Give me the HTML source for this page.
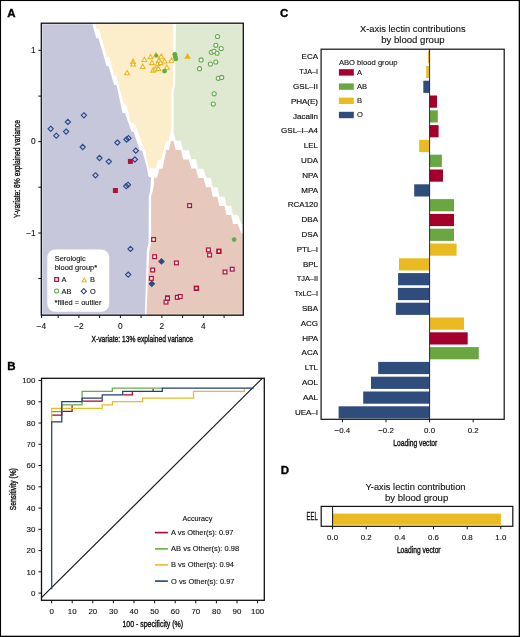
<!DOCTYPE html>
<html><head><meta charset="utf-8"><title>Figure</title>
<style>
html,body{margin:0;padding:0;background:#fff;}
body{width:520px;height:637px;overflow:hidden;}
svg{display:block;will-change:transform;font-family:"Liberation Sans", sans-serif;}
</style></head>
<body>
<svg width="520" height="637" viewBox="0 0 520 637">
<rect x="0" y="0" width="520" height="637" fill="#fff"/>
<rect x="41.3" y="23.2" width="202.0" height="292.0" fill="#fff"/>
<polygon points="41.3,23.2 92.1,23.2 96.3,38.2 98.5,38.2 106.6,66.3 108.6,66.3 114.1,85.0 116.5,85.0 122.6,113.0 124.9,113.0 131.5,131.8 133.5,131.8 140.0,150.4 142.2,150.4 146.9,168.0 148.5,176.5 151.1,177.8 150.1,191.4 148.8,196.4 148.6,242.9 146.9,250.0 144.9,315.2 41.3,315.2" fill="#c6c7db"/>
<polygon points="94.9,23.2 173.2,23.2 173.2,86.0 171.3,89.8 171.3,125.0 170.9,131.0 168.6,140.8 166.0,141.5 160.8,159.5 158.4,159.8 155.8,168.3 148.9,168.3 146.5,158.6 145.6,151.0 144.1,149.0 135.5,125.0 133.2,122.4 130.8,122.4 126.2,103.7 123.5,103.7 116.5,75.7 114.1,75.7 109.2,57.0 106.8,57.0 99.2,28.9 96.7,28.9" fill="#fcedcb"/>
<polygon points="176.0,23.2 243.3,23.2 243.3,224.1 241.4,224.1 237.7,214.7 233.0,214.7 231.1,205.7 226.4,205.7 224.5,196.8 219.3,196.8 217.4,187.3 212.7,187.3 210.8,177.8 206.1,177.8 203.4,168.7 198.2,168.7 195.9,159.2 191.2,159.2 188.8,150.2 183.2,150.2 180.8,140.8 175.7,140.8 173.5,131.8 173.6,131.8 173.6,89.8 175.1,86.0" fill="#dfe8d1"/>
<polygon points="170.9,141.1 173.5,141.1 175.7,150.1 180.8,150.1 183.2,159.6 188.8,159.6 191.2,168.6 195.9,168.6 198.2,178.0 203.4,178.0 206.1,187.2 210.8,187.2 212.7,196.7 217.4,196.7 219.3,206.1 224.5,206.1 226.4,215.0 231.1,215.0 233.0,224.0 237.7,224.0 241.4,233.4 243.3,233.4 243.3,315.2 146.4,315.2 149.4,250.0 151.1,242.9 151.1,196.4 152.6,191.4 153.8,185.0 154.1,177.9 157.1,177.5 159.3,168.9 162.7,168.3 166.2,150.1 168.8,150.1" fill="#e6c8bd"/>
<rect x="47.3" y="249.5" width="61.9" height="62.3" rx="8" ry="8" fill="#fff"/>
<polygon points="83.9,112.70 86.50,115.3 83.9,117.90 81.30,115.3" fill="none" stroke="#284a8a" stroke-width="1.15"/>
<polygon points="67.9,119.30 70.50,121.9 67.9,124.50 65.30,121.9" fill="none" stroke="#284a8a" stroke-width="1.15"/>
<polygon points="50.7,126.20 53.30,128.8 50.7,131.40 48.10,128.8" fill="none" stroke="#284a8a" stroke-width="1.15"/>
<polygon points="66.1,129.00 68.70,131.6 66.1,134.20 63.50,131.6" fill="none" stroke="#284a8a" stroke-width="1.15"/>
<polygon points="56.3,133.10 58.90,135.7 56.3,138.30 53.70,135.7" fill="none" stroke="#284a8a" stroke-width="1.15"/>
<polygon points="82.7,144.40 85.30,147 82.7,149.60 80.10,147" fill="none" stroke="#284a8a" stroke-width="1.15"/>
<polygon points="99.5,155.40 102.10,158 99.5,160.60 96.90,158" fill="none" stroke="#284a8a" stroke-width="1.15"/>
<polygon points="95.5,172.70 98.10,175.3 95.5,177.90 92.90,175.3" fill="none" stroke="#284a8a" stroke-width="1.15"/>
<polygon points="117.4,140.00 120.00,142.6 117.4,145.20 114.80,142.6" fill="none" stroke="#284a8a" stroke-width="1.15"/>
<polygon points="126.5,136.90 129.10,139.5 126.5,142.10 123.90,139.5" fill="none" stroke="#284a8a" stroke-width="1.15"/>
<polygon points="128.5,135.60 131.10,138.2 128.5,140.80 125.90,138.2" fill="none" stroke="#284a8a" stroke-width="1.15"/>
<polygon points="135.8,148.10 138.40,150.7 135.8,153.30 133.20,150.7" fill="none" stroke="#284a8a" stroke-width="1.15"/>
<polygon points="108.8,159.00 111.40,161.6 108.8,164.20 106.20,161.6" fill="none" stroke="#284a8a" stroke-width="1.15"/>
<polygon points="134.9,156.90 137.50,159.5 134.9,162.10 132.30,159.5" fill="none" stroke="#284a8a" stroke-width="1.15"/>
<polygon points="126.2,183.60 128.80,186.2 126.2,188.80 123.60,186.2" fill="none" stroke="#284a8a" stroke-width="1.15"/>
<polygon points="128,182.20 130.60,184.8 128,187.40 125.40,184.8" fill="none" stroke="#284a8a" stroke-width="1.15"/>
<polygon points="130.5,246.30 133.10,248.9 130.5,251.50 127.90,248.9" fill="none" stroke="#284a8a" stroke-width="1.15"/>
<polygon points="128.2,272.00 130.80,274.6 128.2,277.20 125.60,274.6" fill="none" stroke="#284a8a" stroke-width="1.15"/>
<rect x="127.9" y="158.9" width="5.0" height="5.0" fill="#b0103a"/>
<rect x="112.9" y="188.0" width="5.0" height="5.0" fill="#b0103a"/>
<rect x="151.72" y="237.62" width="3.75" height="3.75" fill="#fff" stroke="#b3123f" stroke-width="1.25"/>
<rect x="152.72" y="254.82" width="3.75" height="3.75" fill="#fff" stroke="#b3123f" stroke-width="1.25"/>
<rect x="150.82" y="268.12" width="3.75" height="3.75" fill="#fff" stroke="#b3123f" stroke-width="1.25"/>
<rect x="149.53" y="276.52" width="3.75" height="3.75" fill="#fff" stroke="#b3123f" stroke-width="1.25"/>
<rect x="165.62" y="295.93" width="3.75" height="3.75" fill="#fff" stroke="#b3123f" stroke-width="1.25"/>
<rect x="187.72" y="203.72" width="3.75" height="3.75" fill="#fff" stroke="#b3123f" stroke-width="1.25"/>
<rect x="206.53" y="248.03" width="3.75" height="3.75" fill="#fff" stroke="#b3123f" stroke-width="1.25"/>
<rect x="207.72" y="253.12" width="3.75" height="3.75" fill="#fff" stroke="#b3123f" stroke-width="1.25"/>
<rect x="174.53" y="261.02" width="3.75" height="3.75" fill="#fff" stroke="#b3123f" stroke-width="1.25"/>
<rect x="223.12" y="270.12" width="3.75" height="3.75" fill="#fff" stroke="#b3123f" stroke-width="1.25"/>
<rect x="230.32" y="267.32" width="3.75" height="3.75" fill="#fff" stroke="#b3123f" stroke-width="1.25"/>
<rect x="165.62" y="296.52" width="3.75" height="3.75" fill="#fff" stroke="#b3123f" stroke-width="1.25"/>
<rect x="164.12" y="300.23" width="3.75" height="3.75" fill="#fff" stroke="#b3123f" stroke-width="1.25"/>
<rect x="175.43" y="295.52" width="3.75" height="3.75" fill="#fff" stroke="#b3123f" stroke-width="1.25"/>
<rect x="178.32" y="294.62" width="3.75" height="3.75" fill="#fff" stroke="#b3123f" stroke-width="1.25"/>
<rect x="217.05" y="249.45" width="3.70" height="3.70" fill="#fff" stroke="#b3123f" stroke-width="1.7"/>
<rect x="194.55" y="286.45" width="3.70" height="3.70" fill="#fff" stroke="#b3123f" stroke-width="1.7"/>
<polygon points="161.5,258.0 164.9,261.4 161.5,264.79999999999995 158.1,261.4" fill="#284a8a"/>
<polygon points="151.8,280.40000000000003 155.20000000000002,283.8 151.8,287.2 148.4,283.8" fill="#284a8a"/>
<circle cx="234.1" cy="239.6" r="2.3" fill="#62ab47"/>
<polygon points="127.1,70.58 129.52,74.80 124.68,74.80" fill="#fff" fill-opacity="0.7" stroke="#e8b61c" stroke-width="1.05"/>
<polygon points="133.1,59.18 135.52,63.40 130.68,63.40" fill="#fff" fill-opacity="0.7" stroke="#e8b61c" stroke-width="1.05"/>
<polygon points="133.1,61.78 135.52,66.00 130.68,66.00" fill="#fff" fill-opacity="0.7" stroke="#e8b61c" stroke-width="1.05"/>
<polygon points="142.7,64.18 145.12,68.40 140.28,68.40" fill="#fff" fill-opacity="0.7" stroke="#e8b61c" stroke-width="1.05"/>
<polygon points="144.4,57.28 146.82,61.50 141.98,61.50" fill="#fff" fill-opacity="0.7" stroke="#e8b61c" stroke-width="1.05"/>
<polygon points="150.5,54.58 152.92,58.80 148.08,58.80" fill="#fff" fill-opacity="0.7" stroke="#e8b61c" stroke-width="1.05"/>
<polygon points="151.9,60.38 154.32,64.60 149.48,64.60" fill="#fff" fill-opacity="0.7" stroke="#e8b61c" stroke-width="1.05"/>
<polygon points="156,52.68 158.42,56.90 153.58,56.90" fill="#fff" fill-opacity="0.7" stroke="#e8b61c" stroke-width="1.05"/>
<polygon points="161.2,54.08 163.62,58.30 158.78,58.30" fill="#fff" fill-opacity="0.7" stroke="#e8b61c" stroke-width="1.05"/>
<polygon points="158.8,58.08 161.22,62.30 156.38,62.30" fill="#fff" fill-opacity="0.7" stroke="#e8b61c" stroke-width="1.05"/>
<polygon points="164.6,58.68 167.02,62.90 162.18,62.90" fill="#fff" fill-opacity="0.7" stroke="#e8b61c" stroke-width="1.05"/>
<polygon points="157.7,61.58 160.12,65.80 155.28,65.80" fill="#fff" fill-opacity="0.7" stroke="#e8b61c" stroke-width="1.05"/>
<polygon points="160.6,60.38 163.02,64.60 158.18,64.60" fill="#fff" fill-opacity="0.7" stroke="#e8b61c" stroke-width="1.05"/>
<polygon points="153.1,67.88 155.52,72.10 150.68,72.10" fill="#fff" fill-opacity="0.7" stroke="#e8b61c" stroke-width="1.05"/>
<polygon points="155.4,66.68 157.82,70.90 152.98,70.90" fill="#fff" fill-opacity="0.7" stroke="#e8b61c" stroke-width="1.05"/>
<polygon points="158.3,66.18 160.72,70.40 155.88,70.40" fill="#fff" fill-opacity="0.7" stroke="#e8b61c" stroke-width="1.05"/>
<polygon points="166.9,64.98 169.32,69.20 164.48,69.20" fill="#fff" fill-opacity="0.7" stroke="#e8b61c" stroke-width="1.05"/>
<polygon points="171.5,58.08 173.92,62.30 169.08,62.30" fill="#fff" fill-opacity="0.7" stroke="#e8b61c" stroke-width="1.05"/>
<circle cx="156.3" cy="55.6" r="1.8" fill="#62ab47"/>
<circle cx="164.6" cy="71.1" r="2.4" fill="#62ab47"/>
<circle cx="174.8" cy="54.3" r="2.4" fill="#62ab47"/>
<circle cx="175.2" cy="56.6" r="2.4" fill="#62ab47"/>
<circle cx="175.8" cy="58.9" r="2.4" fill="#62ab47"/>
<polygon points="187.6,52.9 190.9,58.7 184.2,58.7" fill="#e8b61c"/>
<circle cx="217.5" cy="36.5" r="2.05" fill="#fff" stroke="#62ab47" stroke-width="1.05"/>
<circle cx="215.8" cy="45.3" r="2.05" fill="#fff" stroke="#62ab47" stroke-width="1.05"/>
<circle cx="221.2" cy="48.6" r="2.05" fill="#fff" stroke="#62ab47" stroke-width="1.05"/>
<circle cx="211.4" cy="52.3" r="2.05" fill="#fff" stroke="#62ab47" stroke-width="1.05"/>
<circle cx="214" cy="51.3" r="2.05" fill="#fff" stroke="#62ab47" stroke-width="1.05"/>
<circle cx="217.1" cy="53.2" r="2.05" fill="#fff" stroke="#62ab47" stroke-width="1.05"/>
<circle cx="201.1" cy="59.9" r="2.05" fill="#fff" stroke="#62ab47" stroke-width="1.05"/>
<circle cx="215.8" cy="62" r="2.05" fill="#fff" stroke="#62ab47" stroke-width="1.05"/>
<circle cx="210.4" cy="64.1" r="2.05" fill="#fff" stroke="#62ab47" stroke-width="1.05"/>
<circle cx="199.5" cy="68.7" r="2.05" fill="#fff" stroke="#62ab47" stroke-width="1.05"/>
<circle cx="218.3" cy="78.3" r="2.05" fill="#fff" stroke="#62ab47" stroke-width="1.05"/>
<circle cx="221.7" cy="77.4" r="2.05" fill="#fff" stroke="#62ab47" stroke-width="1.05"/>
<circle cx="214.2" cy="93.8" r="2.05" fill="#fff" stroke="#62ab47" stroke-width="1.05"/>
<circle cx="213.3" cy="104.1" r="2.05" fill="#fff" stroke="#62ab47" stroke-width="1.05"/>
<text x="54.7" y="261.1" font-size="7.4" textLength="31" lengthAdjust="spacingAndGlyphs" fill="#111" stroke="#111" stroke-width="0.12">Serologic</text>
<text x="54.7" y="270.3" font-size="7.4" textLength="42.5" lengthAdjust="spacingAndGlyphs" fill="#111" stroke="#111" stroke-width="0.12">blood group*</text>
<rect x="54.73" y="277.62" width="3.75" height="3.75" fill="#fff" stroke="#b3123f" stroke-width="1.25"/>
<text x="61.5" y="282.2" font-size="7.4" fill="#111" stroke="#111" stroke-width="0.12">A</text>
<polygon points="84.2,277.98 86.39,281.79 82.01,281.79" fill="#fff" fill-opacity="0.7" stroke="#e8b61c" stroke-width="1.05"/>
<text x="89.9" y="282.2" font-size="7.4" fill="#111" stroke="#111" stroke-width="0.12">B</text>
<circle cx="56.6" cy="291" r="2.05" fill="#fff" stroke="#62ab47" stroke-width="1.05"/>
<text x="61.5" y="293.7" font-size="7.4" fill="#111" stroke="#111" stroke-width="0.12">AB</text>
<polygon points="83.8,288.60 86.40,291.2 83.8,293.80 81.20,291.2" fill="none" stroke="#284a8a" stroke-width="1.15"/>
<text x="89.9" y="293.7" font-size="7.4" fill="#111" stroke="#111" stroke-width="0.12">O</text>
<text x="54.6" y="305.0" font-size="7.4" textLength="46.8" lengthAdjust="spacingAndGlyphs" fill="#111" stroke="#111" stroke-width="0.12">*filled = outlier</text>
<rect x="42.55" y="24.45" width="199.5" height="289.5" fill="none" stroke="#fff" stroke-opacity="0.28" stroke-width="1"/>
<rect x="41.3" y="23.2" width="202.0" height="292.0" fill="none" stroke="#111" stroke-width="1.3"/>
<line x1="41.6" y1="315.2" x2="41.6" y2="318.0" stroke="#111" stroke-width="1"/>
<line x1="58.2" y1="315.2" x2="58.2" y2="318.0" stroke="#111" stroke-width="1"/>
<line x1="78.9" y1="315.2" x2="78.9" y2="318.0" stroke="#111" stroke-width="1"/>
<line x1="99.6" y1="315.2" x2="99.6" y2="318.0" stroke="#111" stroke-width="1"/>
<line x1="120.4" y1="315.2" x2="120.4" y2="318.0" stroke="#111" stroke-width="1"/>
<line x1="141.1" y1="315.2" x2="141.1" y2="318.0" stroke="#111" stroke-width="1"/>
<line x1="161.9" y1="315.2" x2="161.9" y2="318.0" stroke="#111" stroke-width="1"/>
<line x1="182.6" y1="315.2" x2="182.6" y2="318.0" stroke="#111" stroke-width="1"/>
<line x1="203.4" y1="315.2" x2="203.4" y2="318.0" stroke="#111" stroke-width="1"/>
<line x1="224.1" y1="315.2" x2="224.1" y2="318.0" stroke="#111" stroke-width="1"/>
<line x1="38.3" y1="50.3" x2="41.3" y2="50.3" stroke="#111" stroke-width="1"/>
<line x1="38.3" y1="96.1" x2="41.3" y2="96.1" stroke="#111" stroke-width="1"/>
<line x1="38.3" y1="141.6" x2="41.3" y2="141.6" stroke="#111" stroke-width="1"/>
<line x1="38.3" y1="187.2" x2="41.3" y2="187.2" stroke="#111" stroke-width="1"/>
<line x1="38.3" y1="233.0" x2="41.3" y2="233.0" stroke="#111" stroke-width="1"/>
<line x1="38.3" y1="278.5" x2="41.3" y2="278.5" stroke="#111" stroke-width="1"/>
<text x="41.3" y="328.6" font-size="8.3" text-anchor="middle" fill="#111" stroke="#111" stroke-width="0.12">−4</text>
<text x="78.9" y="328.6" font-size="8.3" text-anchor="middle" fill="#111" stroke="#111" stroke-width="0.12">−2</text>
<text x="120.4" y="328.6" font-size="8.3" text-anchor="middle" fill="#111" stroke="#111" stroke-width="0.12">0</text>
<text x="161.9" y="328.6" font-size="8.3" text-anchor="middle" fill="#111" stroke="#111" stroke-width="0.12">2</text>
<text x="203.4" y="328.6" font-size="8.3" text-anchor="middle" fill="#111" stroke="#111" stroke-width="0.12">4</text>
<text x="35.7" y="52.8" font-size="8.3" text-anchor="end" fill="#111" stroke="#111" stroke-width="0.12">1</text>
<text x="35.7" y="144.1" font-size="8.3" text-anchor="end" fill="#111" stroke="#111" stroke-width="0.12">0</text>
<text x="35.7" y="235.5" font-size="8.3" text-anchor="end" fill="#111" stroke="#111" stroke-width="0.12">−1</text>
<text x="91.5" y="341.5" font-size="9.3" textLength="101.6" lengthAdjust="spacingAndGlyphs" fill="#111" stroke="#111" stroke-width="0.38">X-variate: 13% explained variance</text>
<text x="20.1" y="218.0" font-size="9.3" textLength="98" lengthAdjust="spacingAndGlyphs" transform="rotate(-90 20.1 218.0)" fill="#111" stroke="#111" stroke-width="0.38">Y-variate: 8% explained variance</text>
<line x1="41.5" y1="597.7" x2="262.3" y2="378.3" stroke="#111" stroke-width="1.15"/>
<polyline points="51.7,415.2 61.8,415.2 61.8,411.3 72.1,411.3 72.1,405.3" fill="none" stroke="#a8052f" stroke-width="1.25" stroke-linejoin="miter"/>
<polyline points="82.7,401.2 102.2,401.2 102.2,398.8" fill="none" stroke="#a8052f" stroke-width="1.25" stroke-linejoin="miter"/>
<polyline points="123.3,394.8 132.4,394.8 132.4,392.0" fill="none" stroke="#a8052f" stroke-width="1.25" stroke-linejoin="miter"/>
<polyline points="153.1,391.0 153.1,388.8" fill="none" stroke="#a8052f" stroke-width="1.25" stroke-linejoin="miter"/>
<polyline points="51.7,411.5 61.8,411.5 61.8,404.8 82.1,404.8 82.1,391.4 112.3,391.4 112.3,388.2 161.8,388.2" fill="none" stroke="#68ab45" stroke-width="1.25" stroke-linejoin="miter"/>
<polyline points="51.7,421.2 51.7,408.3 102.2,408.3 102.2,404.8 112.4,404.8 112.4,401.5 142.7,401.5 142.7,398.0 193.5,398.0 193.5,391.4 244.3,391.4 244.3,388.8" fill="none" stroke="#ebbb22" stroke-width="1.25" stroke-linejoin="miter"/>
<polyline points="51.7,589.3 51.7,421.8 61.8,421.8 61.8,401.7 82.1,401.7 82.1,398.1 102.2,398.1 102.2,394.8 122.7,394.8 122.7,391.4 162.3,391.4 162.3,388.1 253.7,388.1" fill="none" stroke="#223f7e" stroke-width="1.25" stroke-linejoin="miter"/>
<rect x="41.5" y="378.3" width="222.8" height="221.99999999999994" fill="none" stroke="#111" stroke-width="1.3"/>
<line x1="51.6" y1="600.3" x2="51.6" y2="603.3" stroke="#111" stroke-width="1"/>
<line x1="38.5" y1="593.1" x2="41.5" y2="593.1" stroke="#111" stroke-width="1"/>
<text x="51.6" y="613.8" font-size="7.9" text-anchor="middle" fill="#111" stroke="#111" stroke-width="0.12">0</text>
<text x="35.4" y="595.9" font-size="7.9" text-anchor="end" fill="#111" stroke="#111" stroke-width="0.12">0</text>
<line x1="72.2" y1="600.3" x2="72.2" y2="603.3" stroke="#111" stroke-width="1"/>
<line x1="38.5" y1="571.8" x2="41.5" y2="571.8" stroke="#111" stroke-width="1"/>
<text x="72.2" y="613.8" font-size="7.9" text-anchor="middle" fill="#111" stroke="#111" stroke-width="0.12">10</text>
<text x="35.4" y="574.6" font-size="7.9" text-anchor="end" fill="#111" stroke="#111" stroke-width="0.12">10</text>
<line x1="92.8" y1="600.3" x2="92.8" y2="603.3" stroke="#111" stroke-width="1"/>
<line x1="38.5" y1="550.6" x2="41.5" y2="550.6" stroke="#111" stroke-width="1"/>
<text x="92.8" y="613.8" font-size="7.9" text-anchor="middle" fill="#111" stroke="#111" stroke-width="0.12">20</text>
<text x="35.4" y="553.4" font-size="7.9" text-anchor="end" fill="#111" stroke="#111" stroke-width="0.12">20</text>
<line x1="113.4" y1="600.3" x2="113.4" y2="603.3" stroke="#111" stroke-width="1"/>
<line x1="38.5" y1="529.3" x2="41.5" y2="529.3" stroke="#111" stroke-width="1"/>
<text x="113.4" y="613.8" font-size="7.9" text-anchor="middle" fill="#111" stroke="#111" stroke-width="0.12">30</text>
<text x="35.4" y="532.1" font-size="7.9" text-anchor="end" fill="#111" stroke="#111" stroke-width="0.12">30</text>
<line x1="134.0" y1="600.3" x2="134.0" y2="603.3" stroke="#111" stroke-width="1"/>
<line x1="38.5" y1="508.1" x2="41.5" y2="508.1" stroke="#111" stroke-width="1"/>
<text x="134.0" y="613.8" font-size="7.9" text-anchor="middle" fill="#111" stroke="#111" stroke-width="0.12">40</text>
<text x="35.4" y="510.9" font-size="7.9" text-anchor="end" fill="#111" stroke="#111" stroke-width="0.12">40</text>
<line x1="154.6" y1="600.3" x2="154.6" y2="603.3" stroke="#111" stroke-width="1"/>
<line x1="38.5" y1="486.8" x2="41.5" y2="486.8" stroke="#111" stroke-width="1"/>
<text x="154.6" y="613.8" font-size="7.9" text-anchor="middle" fill="#111" stroke="#111" stroke-width="0.12">50</text>
<text x="35.4" y="489.6" font-size="7.9" text-anchor="end" fill="#111" stroke="#111" stroke-width="0.12">50</text>
<line x1="175.2" y1="600.3" x2="175.2" y2="603.3" stroke="#111" stroke-width="1"/>
<line x1="38.5" y1="465.5" x2="41.5" y2="465.5" stroke="#111" stroke-width="1"/>
<text x="175.2" y="613.8" font-size="7.9" text-anchor="middle" fill="#111" stroke="#111" stroke-width="0.12">60</text>
<text x="35.4" y="468.3" font-size="7.9" text-anchor="end" fill="#111" stroke="#111" stroke-width="0.12">60</text>
<line x1="195.8" y1="600.3" x2="195.8" y2="603.3" stroke="#111" stroke-width="1"/>
<line x1="38.5" y1="444.3" x2="41.5" y2="444.3" stroke="#111" stroke-width="1"/>
<text x="195.8" y="613.8" font-size="7.9" text-anchor="middle" fill="#111" stroke="#111" stroke-width="0.12">70</text>
<text x="35.4" y="447.1" font-size="7.9" text-anchor="end" fill="#111" stroke="#111" stroke-width="0.12">70</text>
<line x1="216.4" y1="600.3" x2="216.4" y2="603.3" stroke="#111" stroke-width="1"/>
<line x1="38.5" y1="423.0" x2="41.5" y2="423.0" stroke="#111" stroke-width="1"/>
<text x="216.4" y="613.8" font-size="7.9" text-anchor="middle" fill="#111" stroke="#111" stroke-width="0.12">80</text>
<text x="35.4" y="425.8" font-size="7.9" text-anchor="end" fill="#111" stroke="#111" stroke-width="0.12">80</text>
<line x1="237.0" y1="600.3" x2="237.0" y2="603.3" stroke="#111" stroke-width="1"/>
<line x1="38.5" y1="401.8" x2="41.5" y2="401.8" stroke="#111" stroke-width="1"/>
<text x="237.0" y="613.8" font-size="7.9" text-anchor="middle" fill="#111" stroke="#111" stroke-width="0.12">90</text>
<text x="35.4" y="404.6" font-size="7.9" text-anchor="end" fill="#111" stroke="#111" stroke-width="0.12">90</text>
<line x1="257.6" y1="600.3" x2="257.6" y2="603.3" stroke="#111" stroke-width="1"/>
<line x1="38.5" y1="380.5" x2="41.5" y2="380.5" stroke="#111" stroke-width="1"/>
<text x="257.6" y="613.8" font-size="7.9" text-anchor="middle" fill="#111" stroke="#111" stroke-width="0.12">100</text>
<text x="35.4" y="383.3" font-size="7.9" text-anchor="end" fill="#111" stroke="#111" stroke-width="0.12">100</text>
<text x="122.4" y="627.2" font-size="9.1" textLength="60.7" lengthAdjust="spacingAndGlyphs" fill="#111" stroke="#111" stroke-width="0.38">100 - specificity (%)</text>
<text x="16.0" y="510.2" font-size="9.1" textLength="42" lengthAdjust="spacingAndGlyphs" transform="rotate(-90 16.0 510.2)" fill="#111" stroke="#111" stroke-width="0.38">Sensitivity (%)</text>
<text x="182.5" y="520.8" font-size="7.5" textLength="29.8" lengthAdjust="spacingAndGlyphs" fill="#111" stroke="#111" stroke-width="0.12">Accuracy</text>
<line x1="155" y1="532.6" x2="167.9" y2="532.6" stroke="#a8052f" stroke-width="1.6"/>
<text x="171" y="535.0" font-size="7.6" textLength="62.5" lengthAdjust="spacingAndGlyphs" fill="#111" stroke="#111" stroke-width="0.12">A vs Other(s): 0.97</text>
<line x1="155" y1="548.9" x2="167.9" y2="548.9" stroke="#68ab45" stroke-width="1.6"/>
<text x="171" y="551.3" font-size="7.6" textLength="68.2" lengthAdjust="spacingAndGlyphs" fill="#111" stroke="#111" stroke-width="0.12">AB vs Other(s): 0.98</text>
<line x1="155" y1="564.9" x2="167.9" y2="564.9" stroke="#ebbb22" stroke-width="1.6"/>
<text x="171" y="567.3" font-size="7.6" textLength="63" lengthAdjust="spacingAndGlyphs" fill="#111" stroke="#111" stroke-width="0.12">B vs Other(s): 0.94</text>
<line x1="155" y1="581.1" x2="167.9" y2="581.1" stroke="#223f7e" stroke-width="1.6"/>
<text x="171" y="583.5" font-size="7.6" textLength="63.5" lengthAdjust="spacingAndGlyphs" fill="#111" stroke="#111" stroke-width="0.12">O vs Other(s): 0.97</text>
<rect x="428.0" y="51.1" width="1.6" height="12.2" fill="#e9bb21"/>
<text x="318.0" y="59.4" font-size="8.0" text-anchor="end" fill="#111" stroke="#111" stroke-width="0.18">ECA</text>
<rect x="426.2" y="65.9" width="3.4" height="12.2" fill="#e9bb21"/>
<text x="318.0" y="74.2" font-size="8.0" text-anchor="end" textLength="18.8" lengthAdjust="spacingAndGlyphs" fill="#111" stroke="#111" stroke-width="0.18">TJA–I</text>
<rect x="423.3" y="80.7" width="6.3" height="12.2" fill="#2e4c7c"/>
<text x="318.0" y="89.0" font-size="8.0" text-anchor="end" fill="#111" stroke="#111" stroke-width="0.18">GSL–II</text>
<rect x="429.6" y="95.5" width="7.4" height="12.2" fill="#a3002b"/>
<text x="318.0" y="103.8" font-size="8.0" text-anchor="end" fill="#111" stroke="#111" stroke-width="0.18">PHA(E)</text>
<rect x="429.6" y="110.3" width="8.2" height="12.2" fill="#6aa743"/>
<text x="318.0" y="118.6" font-size="8.0" text-anchor="end" fill="#111" stroke="#111" stroke-width="0.18">Jacalin</text>
<rect x="429.6" y="125.1" width="9.0" height="12.2" fill="#a3002b"/>
<text x="318.0" y="133.4" font-size="8.0" text-anchor="end" fill="#111" stroke="#111" stroke-width="0.18">GSL–I–A4</text>
<rect x="419.2" y="139.9" width="10.4" height="12.2" fill="#e9bb21"/>
<text x="318.0" y="148.2" font-size="8.0" text-anchor="end" fill="#111" stroke="#111" stroke-width="0.18">LEL</text>
<rect x="429.6" y="154.7" width="12.3" height="12.2" fill="#6aa743"/>
<text x="318.0" y="163.0" font-size="8.0" text-anchor="end" fill="#111" stroke="#111" stroke-width="0.18">UDA</text>
<rect x="429.6" y="169.5" width="13.4" height="12.2" fill="#a3002b"/>
<text x="318.0" y="177.8" font-size="8.0" text-anchor="end" fill="#111" stroke="#111" stroke-width="0.18">NPA</text>
<rect x="414.2" y="184.3" width="15.4" height="12.2" fill="#2e4c7c"/>
<text x="318.0" y="192.6" font-size="8.0" text-anchor="end" fill="#111" stroke="#111" stroke-width="0.18">MPA</text>
<rect x="429.6" y="199.1" width="24.4" height="12.2" fill="#6aa743"/>
<text x="318.0" y="207.4" font-size="8.0" text-anchor="end" fill="#111" stroke="#111" stroke-width="0.18">RCA120</text>
<rect x="429.6" y="213.9" width="24.4" height="12.2" fill="#a3002b"/>
<text x="318.0" y="222.2" font-size="8.0" text-anchor="end" fill="#111" stroke="#111" stroke-width="0.18">DBA</text>
<rect x="429.6" y="228.7" width="24.4" height="12.2" fill="#6aa743"/>
<text x="318.0" y="237.0" font-size="8.0" text-anchor="end" fill="#111" stroke="#111" stroke-width="0.18">DSA</text>
<rect x="429.6" y="243.5" width="27.0" height="12.2" fill="#e9bb21"/>
<text x="318.0" y="251.8" font-size="8.0" text-anchor="end" fill="#111" stroke="#111" stroke-width="0.18">PTL–I</text>
<rect x="399.0" y="258.3" width="30.6" height="12.2" fill="#e9bb21"/>
<text x="318.0" y="266.6" font-size="8.0" text-anchor="end" fill="#111" stroke="#111" stroke-width="0.18">BPL</text>
<rect x="398.1" y="273.1" width="31.5" height="12.2" fill="#2e4c7c"/>
<text x="318.0" y="281.4" font-size="8.0" text-anchor="end" textLength="21.2" lengthAdjust="spacingAndGlyphs" fill="#111" stroke="#111" stroke-width="0.18">TJA–II</text>
<rect x="397.9" y="287.9" width="31.7" height="12.2" fill="#2e4c7c"/>
<text x="318.0" y="296.2" font-size="8.0" text-anchor="end" textLength="23.6" lengthAdjust="spacingAndGlyphs" fill="#111" stroke="#111" stroke-width="0.18">TxLC–I</text>
<rect x="395.9" y="302.7" width="33.7" height="12.2" fill="#2e4c7c"/>
<text x="318.0" y="311.0" font-size="8.0" text-anchor="end" fill="#111" stroke="#111" stroke-width="0.18">SBA</text>
<rect x="429.6" y="317.5" width="34.4" height="12.2" fill="#e9bb21"/>
<text x="318.0" y="325.8" font-size="8.0" text-anchor="end" fill="#111" stroke="#111" stroke-width="0.18">ACG</text>
<rect x="429.6" y="332.3" width="38.1" height="12.2" fill="#a3002b"/>
<text x="318.0" y="340.6" font-size="8.0" text-anchor="end" fill="#111" stroke="#111" stroke-width="0.18">HPA</text>
<rect x="429.6" y="347.1" width="49.2" height="12.2" fill="#6aa743"/>
<text x="318.0" y="355.4" font-size="8.0" text-anchor="end" fill="#111" stroke="#111" stroke-width="0.18">ACA</text>
<rect x="378.2" y="361.9" width="51.4" height="12.2" fill="#2e4c7c"/>
<text x="318.0" y="370.2" font-size="8.0" text-anchor="end" fill="#111" stroke="#111" stroke-width="0.18">LTL</text>
<rect x="371.0" y="376.7" width="58.6" height="12.2" fill="#2e4c7c"/>
<text x="318.0" y="385.0" font-size="8.0" text-anchor="end" fill="#111" stroke="#111" stroke-width="0.18">AOL</text>
<rect x="363.2" y="391.5" width="66.4" height="12.2" fill="#2e4c7c"/>
<text x="318.0" y="399.8" font-size="8.0" text-anchor="end" fill="#111" stroke="#111" stroke-width="0.18">AAL</text>
<rect x="338.6" y="406.3" width="91.0" height="12.2" fill="#2e4c7c"/>
<text x="318.0" y="414.6" font-size="8.0" text-anchor="end" fill="#111" stroke="#111" stroke-width="0.18">UEA–I</text>
<line x1="429.6" y1="49.2" x2="429.6" y2="419.3" stroke="#222" stroke-width="0.95"/>
<rect x="321.1" y="49.2" width="183.09999999999997" height="370.1" fill="none" stroke="#111" stroke-width="1.2"/>
<line x1="342.4" y1="419.3" x2="342.4" y2="422.3" stroke="#111" stroke-width="1"/>
<text x="342.4" y="432.6" font-size="7.9" text-anchor="middle" fill="#111" stroke="#111" stroke-width="0.12">−0.4</text>
<line x1="386.0" y1="419.3" x2="386.0" y2="422.3" stroke="#111" stroke-width="1"/>
<text x="386.0" y="432.6" font-size="7.9" text-anchor="middle" fill="#111" stroke="#111" stroke-width="0.12">−0.2</text>
<line x1="429.6" y1="419.3" x2="429.6" y2="422.3" stroke="#111" stroke-width="1"/>
<text x="429.6" y="432.6" font-size="7.9" text-anchor="middle" fill="#111" stroke="#111" stroke-width="0.12">0.0</text>
<line x1="473.2" y1="419.3" x2="473.2" y2="422.3" stroke="#111" stroke-width="1"/>
<text x="473.2" y="432.6" font-size="7.9" text-anchor="middle" fill="#111" stroke="#111" stroke-width="0.12">0.2</text>
<text x="393.3" y="445.6" font-size="9.3" textLength="44" lengthAdjust="spacingAndGlyphs" fill="#111" stroke="#111" stroke-width="0.38">Loading vector</text>
<text x="338.9" y="64.6" font-size="7.6" textLength="58.5" lengthAdjust="spacingAndGlyphs" fill="#111" stroke="#111" stroke-width="0.12">ABO blood group</text>
<rect x="338.9" y="69.2" width="14.9" height="6.4" fill="#a3002b"/>
<text x="356.9" y="75.2" font-size="7.6" fill="#111" stroke="#111" stroke-width="0.12">A</text>
<rect x="338.9" y="83.4" width="14.9" height="6.4" fill="#6aa743"/>
<text x="356.9" y="89.1" font-size="7.6" fill="#111" stroke="#111" stroke-width="0.12">AB</text>
<rect x="338.9" y="97.6" width="14.9" height="6.4" fill="#e9bb21"/>
<text x="356.9" y="103.0" font-size="7.6" fill="#111" stroke="#111" stroke-width="0.12">B</text>
<rect x="338.9" y="111.8" width="14.9" height="6.4" fill="#2e4c7c"/>
<text x="356.9" y="116.9" font-size="7.6" fill="#111" stroke="#111" stroke-width="0.12">O</text>
<text x="412.8" y="31.6" font-size="9.6" text-anchor="middle" textLength="105.5" lengthAdjust="spacingAndGlyphs" fill="#111" stroke="#111" stroke-width="0.12">X-axis lectin contributions</text>
<text x="412.9" y="43.3" font-size="9.6" text-anchor="middle" textLength="63.4" lengthAdjust="spacingAndGlyphs" fill="#111" stroke="#111" stroke-width="0.12">by blood group</text>
<rect x="332.6" y="513.6" width="168.29999999999995" height="11.2" fill="#e9bb21"/>
<line x1="332.6" y1="506.4" x2="332.6" y2="526.3" stroke="#111" stroke-width="1"/>
<rect x="321.2" y="506.4" width="191.59999999999997" height="19.899999999999977" fill="none" stroke="#111" stroke-width="1.2"/>
<line x1="332.6" y1="526.3" x2="332.6" y2="529.3" stroke="#111" stroke-width="1"/>
<text x="332.6" y="539.8" font-size="7.9" text-anchor="middle" fill="#111" stroke="#111" stroke-width="0.12">0.0</text>
<line x1="366.2" y1="526.3" x2="366.2" y2="529.3" stroke="#111" stroke-width="1"/>
<text x="366.2" y="539.8" font-size="7.9" text-anchor="middle" fill="#111" stroke="#111" stroke-width="0.12">0.2</text>
<line x1="399.9" y1="526.3" x2="399.9" y2="529.3" stroke="#111" stroke-width="1"/>
<text x="399.9" y="539.8" font-size="7.9" text-anchor="middle" fill="#111" stroke="#111" stroke-width="0.12">0.4</text>
<line x1="433.5" y1="526.3" x2="433.5" y2="529.3" stroke="#111" stroke-width="1"/>
<text x="433.5" y="539.8" font-size="7.9" text-anchor="middle" fill="#111" stroke="#111" stroke-width="0.12">0.6</text>
<line x1="467.2" y1="526.3" x2="467.2" y2="529.3" stroke="#111" stroke-width="1"/>
<text x="467.2" y="539.8" font-size="7.9" text-anchor="middle" fill="#111" stroke="#111" stroke-width="0.12">0.8</text>
<line x1="500.8" y1="526.3" x2="500.8" y2="529.3" stroke="#111" stroke-width="1"/>
<text x="500.8" y="539.8" font-size="7.9" text-anchor="middle" fill="#111" stroke="#111" stroke-width="0.12">1.0</text>
<text x="306.6" y="519.6" font-size="10.4" textLength="11.2" lengthAdjust="spacingAndGlyphs" fill="#111" stroke="#111" stroke-width="0.35">EEL</text>
<text x="396.9" y="553.3" font-size="9.3" textLength="43.7" lengthAdjust="spacingAndGlyphs" fill="#111" stroke="#111" stroke-width="0.38">Loading vector</text>
<text x="415.5" y="489.5" font-size="9.6" text-anchor="middle" textLength="100" lengthAdjust="spacingAndGlyphs" fill="#111" stroke="#111" stroke-width="0.12">Y-axis lectin contribution</text>
<text x="416.6" y="501.1" font-size="9.6" text-anchor="middle" textLength="63.4" lengthAdjust="spacingAndGlyphs" fill="#111" stroke="#111" stroke-width="0.12">by blood group</text>
<text x="7.2" y="16.9" font-size="11.5" font-weight="bold" fill="#000" stroke="#000" stroke-width="0.35">A</text>
<text x="7.3" y="370.1" font-size="11.5" font-weight="bold" fill="#000" stroke="#000" stroke-width="0.35">B</text>
<text x="279.9" y="17.0" font-size="11.5" font-weight="bold" fill="#000" stroke="#000" stroke-width="0.35">C</text>
<text x="280.8" y="473.9" font-size="11.5" font-weight="bold" fill="#000" stroke="#000" stroke-width="0.35">D</text>
<rect x="0" y="0" width="520" height="1.05" fill="#000"/>
<rect x="0" y="0" width="1.05" height="637" fill="#000"/>
<rect x="518.7" y="0" width="1.3" height="637" fill="#000"/>
<rect x="0" y="635.7" width="520" height="1.3" fill="#000"/>
</svg>
</body></html>
